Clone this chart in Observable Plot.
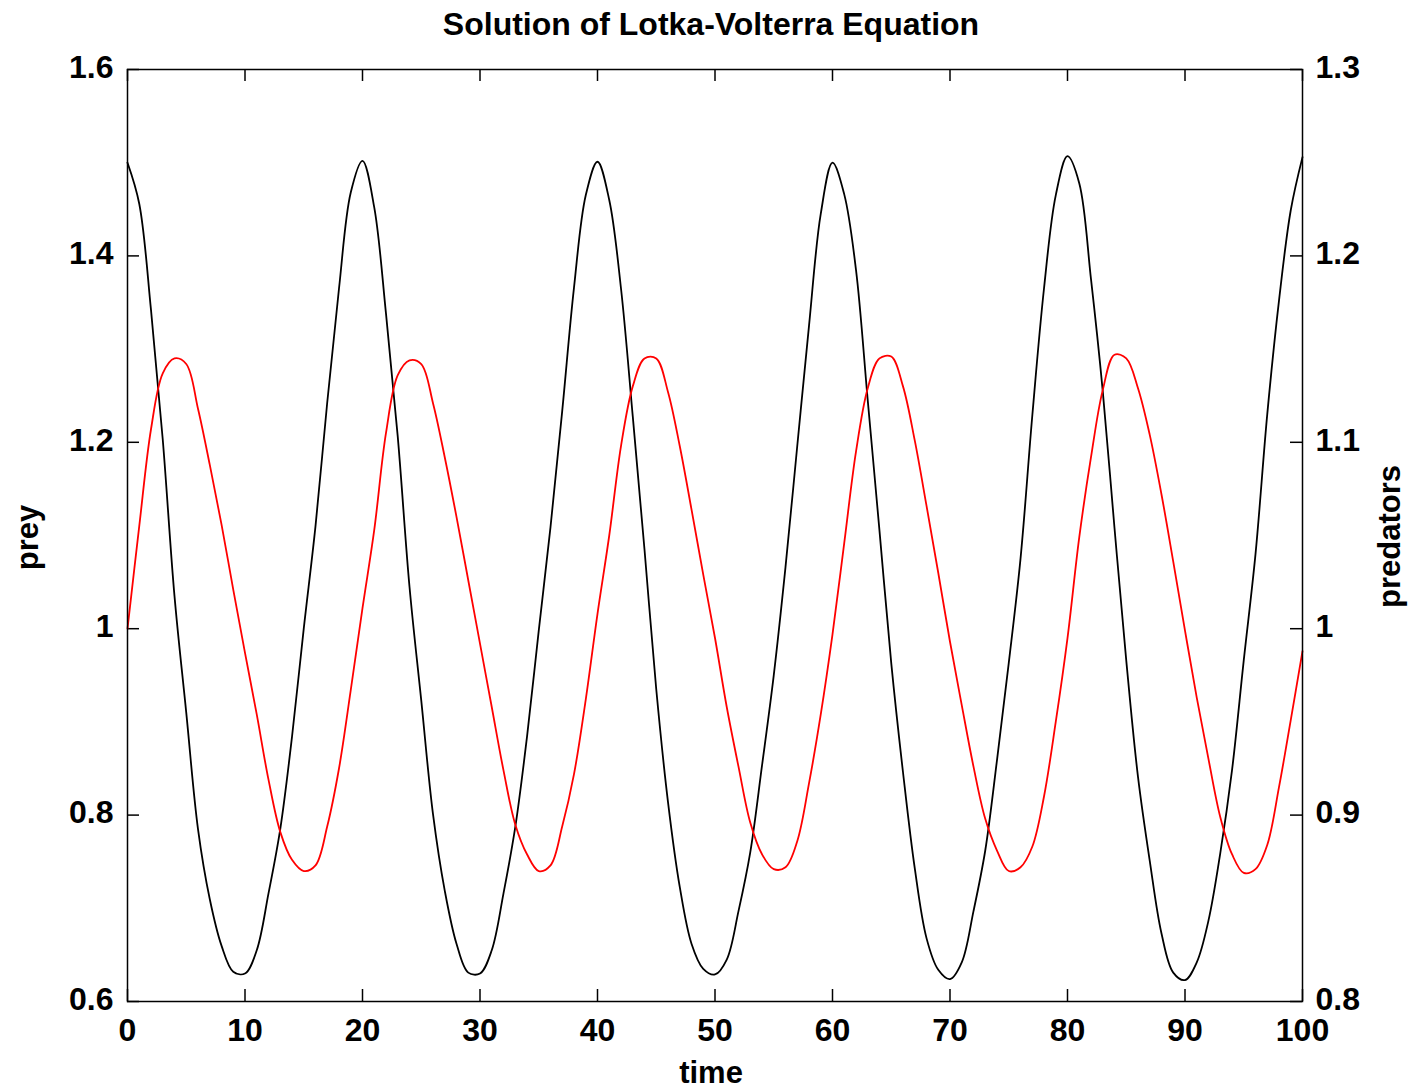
<!DOCTYPE html>
<html>
<head>
<meta charset="utf-8">
<script src="https://cdn.jsdelivr.net/npm/d3@7"></script>
<script src="https://cdn.jsdelivr.net/npm/@observablehq/plot@0.6"></script>
<style>
  html, body { margin: 0; padding: 0; background: #fff; }
  #chart svg { display: block; }
</style>
</head>
<body>
<div id="chart"></div>
<script>
// ---- data ----
const titleText = "Solution of Lotka-Volterra Equation";
const xLabel = "time";
const yLeftLabel = "prey";
const yRightLabel = "predators";

const time = d3.range(0, 101); // t = 0, 1, ..., 100

const prey = [
  1.500, 1.456, 1.342, 1.203, 1.035, 0.910, 0.785, 0.710, 0.660, 0.632,
  0.630, 0.655, 0.716, 0.785, 0.884, 1.000, 1.110, 1.243, 1.365, 1.468,
  1.502, 1.452, 1.338, 1.206, 1.045, 0.923, 0.801, 0.719, 0.662, 0.631,
  0.630, 0.655, 0.716, 0.787, 0.884, 0.998, 1.109, 1.234, 1.366, 1.465,
  1.501, 1.460, 1.365, 1.228, 1.085, 0.935, 0.814, 0.723, 0.662, 0.635,
  0.629, 0.645, 0.697, 0.760, 0.853, 0.950, 1.066, 1.196, 1.325, 1.445,
  1.500, 1.466, 1.385, 1.245, 1.105, 0.963, 0.846, 0.743, 0.668, 0.634,
  0.624, 0.642, 0.697, 0.762, 0.859, 0.963, 1.075, 1.228, 1.365, 1.465,
  1.507, 1.478, 1.375, 1.255, 1.108, 0.966, 0.841, 0.751, 0.673, 0.631,
  0.623, 0.642, 0.687, 0.759, 0.848, 0.966, 1.080, 1.230, 1.352, 1.449,
  1.506
];

const predators = [
  1.000, 1.055, 1.107, 1.137, 1.145, 1.142, 1.118, 1.088, 1.056, 1.021,
  0.987, 0.954, 0.919, 0.891, 0.876, 0.870, 0.873, 0.894, 0.925, 0.967,
  1.011, 1.053, 1.105, 1.136, 1.144, 1.142, 1.121, 1.092, 1.060, 1.026,
  0.992, 0.958, 0.924, 0.895, 0.879, 0.870, 0.873, 0.894, 0.922, 0.962,
  1.008, 1.050, 1.098, 1.130, 1.145, 1.145, 1.127, 1.098, 1.064, 1.029,
  0.995, 0.958, 0.926, 0.896, 0.879, 0.871, 0.872, 0.886, 0.917, 0.954,
  0.997, 1.046, 1.095, 1.129, 1.145, 1.146, 1.130, 1.101, 1.066, 1.030,
  0.993, 0.959, 0.926, 0.898, 0.881, 0.870, 0.872, 0.883, 0.910, 0.950,
  0.995, 1.049, 1.092, 1.128, 1.147, 1.145, 1.129, 1.104, 1.072, 1.036,
  0.999, 0.963, 0.930, 0.899, 0.879, 0.869, 0.871, 0.884, 0.915, 0.951,
  0.988
];

const xTicks = [0, 10, 20, 30, 40, 50, 60, 70, 80, 90, 100];
const preyTicks = [0.6, 0.8, 1.0, 1.2, 1.4, 1.6];
const predTicks = [0.8, 0.9, 1.0, 1.1, 1.2, 1.3];

const preyDomain = [0.6, 1.6];
const predDomain = [0.8, 1.3];

// map a predator value onto the prey (left) scale so both share one y scale
const toLeft = v => preyDomain[0] + (v - predDomain[0]) *
  (preyDomain[1] - preyDomain[0]) / (predDomain[1] - predDomain[0]);
const fmt = v => String(+v.toFixed(2));

const preyRows = time.map((t, i) => ({t, v: prey[i]}));
const predRows = time.map((t, i) => ({t, v: predators[i]}));

const W = 1412, H = 1092;
const mL = 127, mR = 110, mT = 69, mB = 91;
const frameW = W - mL - mR, frameH = H - mT - mB;
const tickLen = 12;
const font = "'Liberation Sans', Arial, Helvetica, sans-serif";

const chart = Plot.plot({
  width: W,
  height: H,
  marginLeft: mL,
  marginRight: mR,
  marginTop: mT,
  marginBottom: mB,
  style: {fontFamily: font, background: "#fff", color: "#000"},
  x: {domain: [0, 100], axis: null},
  y: {domain: preyDomain, axis: null},
  marks: [
    // inward ticks on all four sides
    Plot.tickX(xTicks, {x: d => d, insetTop: frameH - tickLen, stroke: "#000", strokeWidth: 1.5}),
    Plot.tickX(xTicks, {x: d => d, insetBottom: frameH - tickLen, stroke: "#000", strokeWidth: 1.5}),
    Plot.tickY(preyTicks, {y: d => d, insetRight: frameW - tickLen, stroke: "#000", strokeWidth: 1.5}),
    Plot.tickY(predTicks, {y: d => toLeft(d), insetLeft: frameW - tickLen, stroke: "#000", strokeWidth: 1.5}),
    // series
    Plot.line(preyRows, {x: "t", y: "v", stroke: "#000000", strokeWidth: 1.8, curve: "catmull-rom"}),
    Plot.line(predRows, {x: "t", y: d => toLeft(d.v), stroke: "#ff0000", strokeWidth: 1.8, curve: "catmull-rom"}),
    Plot.frame({stroke: "#000", strokeWidth: 1.5}),
    // tick labels
    Plot.text(xTicks, {x: d => d, frameAnchor: "bottom", dy: 39, text: d => String(d),
      fontSize: 32, fontWeight: "bold", fill: "#000"}),
    Plot.text(preyTicks, {y: d => d, frameAnchor: "left", textAnchor: "end", dx: -14, dy: -2,
      text: fmt, fontSize: 32, fontWeight: "bold", fill: "#000"}),
    Plot.text(predTicks, {y: d => toLeft(d), frameAnchor: "right", textAnchor: "start", dx: 13, dy: -2,
      text: fmt, fontSize: 32, fontWeight: "bold", fill: "#000"}),
    // axis titles and chart title
    Plot.text([xLabel], {frameAnchor: "bottom", textAnchor: "middle", dx: -4, dy: 81, text: d => d,
      fontSize: 31, fontWeight: "bold", fill: "#000"}),
    Plot.text([yLeftLabel], {frameAnchor: "left", textAnchor: "middle", dx: -99, dy: 2, rotate: -90, text: d => d,
      fontSize: 31, fontWeight: "bold", fill: "#000"}),
    Plot.text([yRightLabel], {frameAnchor: "right", textAnchor: "middle", dx: 88, dy: 1, rotate: -90, text: d => d,
      fontSize: 31, fontWeight: "bold", fill: "#000"}),
    Plot.text([titleText], {frameAnchor: "top", textAnchor: "middle", dx: -4, dy: -57, text: d => d,
      fontSize: 32, fontWeight: "bold", fill: "#000"})
  ]
});

document.getElementById("chart").appendChild(chart);
</script>
</body>
</html>
